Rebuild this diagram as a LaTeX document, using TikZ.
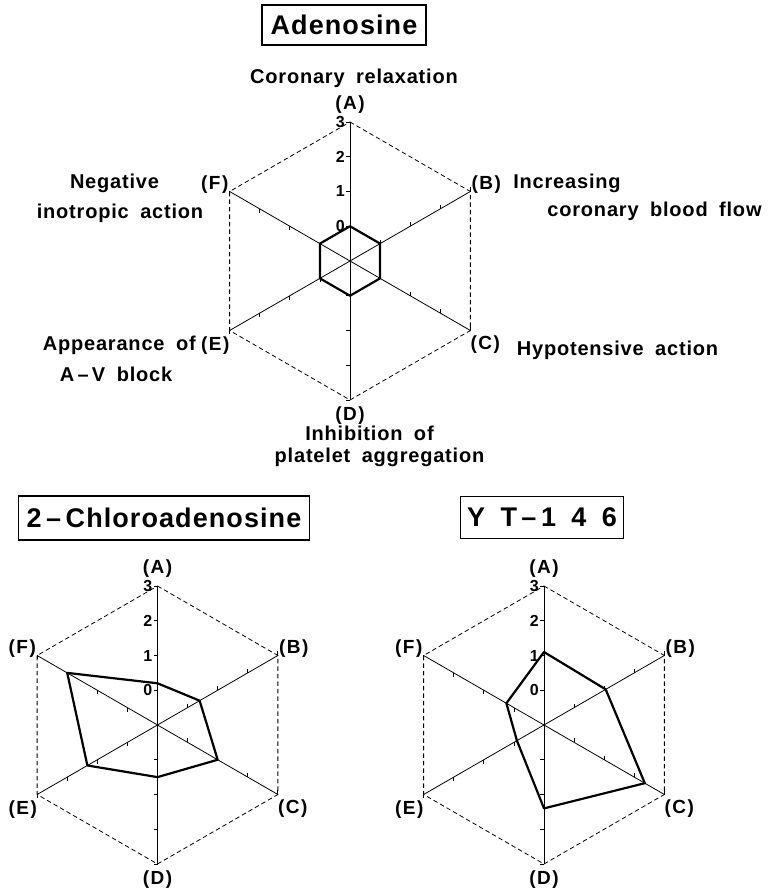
\documentclass[tikz,border=0pt]{standalone}
\usepackage{fontspec}
\setmainfont{Liberation Sans}[LetterSpace=4,WordSpace=1.8]
\usetikzlibrary{positioning}

\tikzset{
  axis/.style={line width=0.8pt},
  rim/.style={line width=0.8pt, dash pattern=on 4.5pt off 3pt},
  profile/.style={line width=2.2pt, line join=round},
  tickmark/.style={line width=0.8pt},
  title/.style={draw, line width=1.2pt, inner sep=0pt, font=\bfseries\fontsize{27}{27}\selectfont},
  lab/.style={inner sep=0pt, font=\bfseries\fontsize{20}{20}\selectfont},
  letter/.style={inner sep=0pt, font=\bfseries\fontsize{19}{19}\selectfont},
  num/.style={inner sep=0pt, font=\bfseries\fontsize{16}{16}\selectfont},
}

\begin{document}
\begin{tikzpicture}[x=1pt, y=1pt]
	\useasboundingbox (0,0) rectangle (769,894);

	% === CHARTS === (((
	\foreach \nm/\cx/\cy/\vals in {ad/350/633/{0,0,0,0,0,0},
		cl/157.5/169/{0.2,0.4,1,0.5,1.33,2},
		yt/544/169/{1.1,1.05,2.35,1.4,-0.1,0.25}} {
		\begin{scope}[shift={(\cx,\cy)}]
			\coordinate (\nm-o) at (0,0);
			\foreach \ax/\ang in {A/90,B/30,C/-30,D/-90,E/-150,F/150}
				\coordinate (\nm-\ax) at (\ang:139);
			\draw [rim] (\nm-A) -- (\nm-B) -- (\nm-C) -- (\nm-D) -- (\nm-E) -- (\nm-F) -- cycle;
			\foreach \ax in {A,...,F} \draw [axis] (\nm-o) -- (\nm-\ax);
			\foreach \ang/\dx/\dy in {90/-4/0,30/0/4,-30/0/4,-90/-4/0,-150/0/-4,150/0/-4}
				\foreach \k in {0,...,3}
					\draw [tickmark] (\ang:{(\k+1)*34.75}) -- ++(\dx,\dy);
			\foreach \k in {0,...,3}
				\node [num, anchor=east] (\nm-n\k) at (-5,{(\k+1)*34.75}) {\k};
			\foreach \v [count=\i, evaluate=\i as \ang using 150-60*\i] in \vals
				\coordinate (\nm-p\i) at (\ang:{(\v+1)*34.75});
			\draw [profile] (\nm-p1) -- (\nm-p2) -- (\nm-p3) -- (\nm-p4) -- (\nm-p5) -- (\nm-p6) -- cycle;
			% axis letters
			\node [letter, above=8pt of \nm-A] (\nm-tA) {(\kern1.5pt A\kern1.5pt)};
			\node [letter, anchor=west] (\nm-tB) at ([shift={(1,7)}]\nm-B) {(\kern1.5pt B\kern1.5pt)};
			\node [letter, anchor=west] (\nm-tC) at ([shift={(0,-14)}]\nm-C) {(\kern1.5pt C\kern1.5pt)};
			\node [letter, below=7pt of \nm-D] (\nm-tD) {(\kern1.5pt D\kern1.5pt)};
			\node [letter, anchor=east] (\nm-tE) at ([shift={(0,-15)}]\nm-E) {(\kern1.5pt E\kern1.5pt)};
			\node [letter, anchor=east] (\nm-tF) at ([shift={(-1,7)}]\nm-F) {(\kern1.5pt F\kern1.5pt)};
		\end{scope}
	}
	% )))

	% === TITLES === (((
	\node [title, minimum width=164pt, minimum height=40pt] (adtitle) at (344,869) {Adenosine};
	\node [title, minimum width=291pt, minimum height=44pt] (cltitle) at (164,376) {2\,--\,Chloroadenosine};
	\node [title, minimum width=163pt, minimum height=42pt] (yttitle) at (542,376.5) {Y T\,--\,1 4 6};
	% )))

	% === LABELS === (((
	\node [lab] (coro) at (354,816) {Coronary relaxation};
	\node [lab] (incr) at (567,711) {Increasing};
	\node [lab] (flow) at (654.5,683) {coronary blood flow};
	\node [lab] (hypo) at (617.5,544) {Hypotensive action};
	\node [lab] (inhi) at (369.5,461) {Inhibition of};
	\node [lab] (plat) at (379.5,437) {platelet aggregation};
	\node [lab] (nega) at (114.5,711) {Negative};
	\node [lab] (inot) at (120,681) {inotropic action};
	\node [lab, left=5pt of ad-tE] (appe) {Appearance of};
	\node [lab] (avbl) at (116,520) {A\,--\,V block};
	% )))

\end{tikzpicture}
\end{document}
